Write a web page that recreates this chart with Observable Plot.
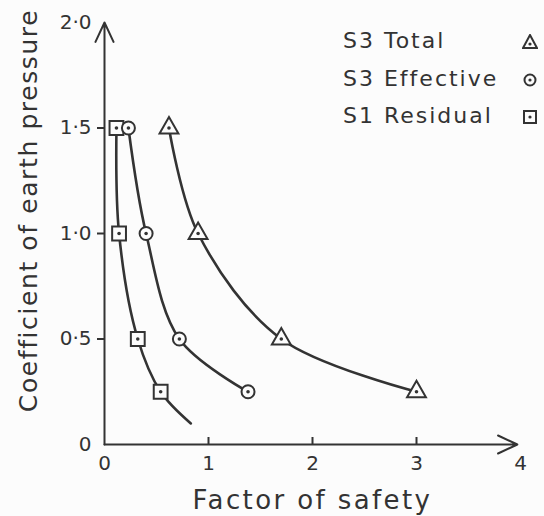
<!DOCTYPE html>
<html><head><meta charset="utf-8">
<script src="https://cdn.jsdelivr.net/npm/d3@7"></script>
<script src="https://cdn.jsdelivr.net/npm/@observablehq/plot@0.6"></script>
<style>
body{margin:0;background:#fcfcfc;}
#wrap{position:relative;width:544px;height:516px;font-family:"DejaVu Sans",sans-serif;color:#333;}
#legend{position:absolute;left:343px;top:28px;font-size:22px;letter-spacing:2px;}
#legend .row{position:relative;height:37.5px;width:195px;}
#legend svg{position:absolute;right:0;top:6px;}
.xtitle text{letter-spacing:2.4px;}
.ytitle text{letter-spacing:1.6px;}
</style></head><body>
<div id="wrap"><div id="chart"></div><div id="legend"></div></div>
<script>
const ink = "#333";
const yLevels = [1.5, 1.0, 0.5, 0.25];
const s3Total = [0.62, 0.90, 1.70, 3.0];
const s3Effective = [0.23, 0.40, 0.72, 1.38];
const s1Residual = [0.115, 0.14, 0.32, 0.54];
const residualTail = {x: 0.83, y: 0.10};
const xTicks = [0, 1, 2, 3, 4];
const xTickLabels = ["0", "1", "2", "3", "4"];
const yTicks = [0, 0.5, 1.0, 1.5, 2.0];
const yTickLabels = ["0", "0·5", "1·0", "1·5", "2·0"];
const seriesNames = ["S3 Total", "S3 Effective", "S1 Residual"];
const symbols = ["triangle", "circle", "square"];
const sizes = [7, 6.5, 7.8];

const series = [s3Total, s3Effective, s1Residual];
const pts = [];
series.forEach((xs, i) => xs.forEach((x, j) => pts.push({s: seriesNames[i], x, y: yLevels[j], sym: symbols[i], r: sizes[i]})));
const curves = pts.map(d => ({...d}));
curves.push({s: "S1 Residual", x: residualTail.x, y: residualTail.y});

const chart = Plot.plot({
  width: 544, height: 516,
  marginLeft: 104, marginRight: 24, marginTop: 22, marginBottom: 72,
  x: {domain: [xTicks[0], xTicks[xTicks.length-1]]},
  y: {domain: [yTicks[0], yTicks[yTicks.length-1]]},
  style: {fontFamily: "DejaVu Sans, sans-serif", background: "transparent", color: ink, overflow: "visible"},
  marks: [
    Plot.arrow([{x1: 0, y1: 0, x2: 0, y2: 2}], {x1: "x1", y1: "y1", x2: "x2", y2: "y2", stroke: ink, strokeWidth: 2, headLength: 16, headAngle: 50}),
    Plot.arrow([{x1: 0, y1: 0, x2: 3.97, y2: 0}], {x1: "x1", y1: "y1", x2: "x2", y2: "y2", stroke: ink, strokeWidth: 2, headLength: 16, headAngle: 50}),
    Plot.axisX({ticks: xTicks, tickFormat: (d, i) => xTickLabels[i], tickSize: 0, tickPadding: 11, fontSize: 20, fill: ink, label: null}),
    Plot.axisX({ticks: [1, 2, 3], tickSize: -7, text: null, label: null, stroke: ink, strokeWidth: 2}),
    Plot.axisY({ticks: yTicks, tickFormat: (d, i) => yTickLabels[i], tickSize: 0, tickPadding: 13, fontSize: 20, fill: ink, label: null}),
    Plot.axisY({ticks: [0.5, 1.0, 1.5], tickSize: 7, text: null, label: null, stroke: ink, strokeWidth: 2}),
    Plot.line(curves, {x: "x", y: "y", z: "s", curve: "catmull-rom", stroke: ink, strokeWidth: 2.6}),
    Plot.dot(pts, {x: "x", y: "y", symbol: "sym", r: "r", fill: "#fcfcfc", stroke: ink, strokeWidth: 2}),
    Plot.dot(pts, {x: "x", y: "y", r: 1.8, fill: ink}),
    Plot.text(["Factor of safety"], {frameAnchor: "bottom", lineAnchor: "middle", dy: 56, fontSize: 26, fill: ink, text: d => d, className: "xtitle"}),
    Plot.text(["Coefficient of earth pressure"], {frameAnchor: "left", textAnchor: "middle", lineAnchor: "middle", dx: -76, dy: -23, rotate: -90, fontSize: 25, fill: ink, text: d => d, className: "ytitle"})
  ],
  r: {type: "identity"},
  symbol: {type: "identity"}
});
document.getElementById("chart").append(chart);

const leg = document.getElementById("legend");
const shapes = {
  triangle: '<path d="M8,1 L15,14 L1,14 Z" fill="none" stroke="#333" stroke-width="2"/><circle cx="8" cy="10" r="1.6" fill="#333"/>',
  circle: '<circle cx="8" cy="8" r="5.5" fill="none" stroke="#333" stroke-width="2"/><circle cx="8" cy="8" r="1.6" fill="#333"/>',
  square: '<rect x="2" y="2" width="12" height="12" fill="none" stroke="#333" stroke-width="2"/><circle cx="8" cy="8" r="1.6" fill="#333"/>'
};
seriesNames.forEach((n, i) => {
  const row = document.createElement("div");
  row.className = "row";
  row.innerHTML = `<span>${n.replace(" ", "&nbsp;")}</span><svg width="16" height="16">${shapes[symbols[i]]}</svg>`;
  leg.append(row);
});
</script>
</body></html>
